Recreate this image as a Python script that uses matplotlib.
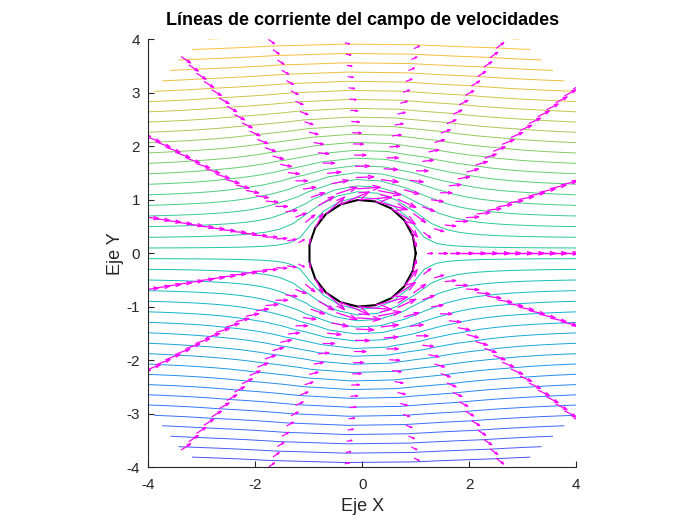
import numpy as np
import matplotlib
matplotlib.use("Agg")
import matplotlib.pyplot as plt
from matplotlib.colors import LinearSegmentedColormap, Normalize
from matplotlib.collections import LineCollection

# flujo potencial alrededor de un cilindro
U_inf = 1.0          # velocidad de la corriente libre
a = 1.0              # radio del cilindro
r_lim = [1.0, 5.0]   # radios de la malla polar
n_r = 20
n_theta = 20
n_levels = 50        # numero de lineas de corriente

x_ticks = [-4, -2, 0, 2, 4]
y_ticks = [-4, -3, -2, -1, 0, 1, 2, 3, 4]
titulo = "Líneas de corriente del campo de velocidades"
xlab = "Eje X"
ylab = "Eje Y"

# colormap tipo parula
parula_pts = [0.0, 9/63, 15/63, 19/63, 24/63, 31/63, 39/63, 47/63, 51/63, 55/63, 59/63, 1.0]
parula_rgb = [(0.2422, 0.1504, 0.6603), (0.2780, 0.3556, 0.9777), (0.1707, 0.4887, 0.9873),
              (0.1212, 0.6029, 0.8796), (0.0689, 0.6948, 0.8394), (0.0896, 0.7701, 0.6555),
              (0.3120, 0.8130, 0.4850), (0.7250, 0.7801, 0.3050), (0.8916, 0.7540, 0.2556),
              (0.9932, 0.7425, 0.2392), (0.9687, 0.8380, 0.1647), (0.9769, 0.9839, 0.0805)]
parula = LinearSegmentedColormap.from_list("parula", list(zip(parula_pts, parula_rgb)))

r = np.linspace(r_lim[0], r_lim[1], n_r)
theta = np.linspace(0, 2 * np.pi, n_theta)
R, T = np.meshgrid(r, theta)
X = R * np.cos(T)
Y = R * np.sin(T)

psi = U_inf * (R - a**2 / R) * np.sin(T)
Vr = U_inf * (1 - a**2 / R**2) * np.cos(T)
Vt = -U_inf * (1 + a**2 / R**2) * np.sin(T) / R
u = Vr * np.cos(T) - Vt * np.sin(T)
v = Vr * np.sin(T) + Vt * np.cos(T)

plt.rcParams['font.family'] = ['Liberation Sans', 'DejaVu Sans']
plt.rcParams['axes.unicode_minus'] = False
fig = plt.figure(figsize=(7, 5.25), dpi=100)
ax = fig.add_axes([0.13, 0.11, 0.775, 0.815])

levels = np.linspace(psi.min(), psi.max(), n_levels + 2)[1:-1]
ax.contour(X, Y, psi, levels=levels, cmap=parula,
           norm=Normalize(psi.min(), psi.max()), linewidths=0.7)

# cilindro
ax.plot(a * np.cos(theta), a * np.sin(theta), color='k', lw=1.5)

# quiver al estilo matlab (autoescala 0.9, flechas de lineas)
m, n = X.shape
delx = (X.max() - X.min()) / n
dely = (Y.max() - Y.min()) / m
del2 = delx**2 + dely**2
maxlen = np.sqrt((u**2 + v**2) / del2).max()
s = 0.9 / maxlen
us, vs = u.ravel() * s, v.ravel() * s
xs, ys = X.ravel(), Y.ravel()
alpha, beta = 0.33, 0.33
segs = []
for x0, y0, du, dv in zip(xs, ys, us, vs):
    tip = (x0 + du, y0 + dv)
    segs.append([(x0, y0), tip])
    h1 = (x0 + du - alpha * (du + beta * dv), y0 + dv - alpha * (dv - beta * du))
    h2 = (x0 + du - alpha * (du - beta * dv), y0 + dv - alpha * (dv + beta * du))
    segs.append([h1, tip, h2])
ax.add_collection(LineCollection(segs, colors=(1, 0, 1), linewidths=0.9))

ax.set_xlim(-4, 4)
ax.set_ylim(-4, 4)
ax.set_aspect('equal')
ax.set_xticks(x_ticks)
ax.set_yticks(y_ticks)
ax.spines['top'].set_visible(False)
ax.spines['right'].set_visible(False)
for sp in ['left', 'bottom']:
    ax.spines[sp].set_color((0.15, 0.15, 0.15))
ax.tick_params(direction='in', length=4, labelsize=11, colors=(0.15, 0.15, 0.15))
ax.tick_params(axis='x', pad=8)
ax.tick_params(axis='y', pad=6)
ax.set_xlabel(xlab, fontsize=13, color=(0.15, 0.15, 0.15), labelpad=4)
ax.set_ylabel(ylab, fontsize=13, color=(0.15, 0.15, 0.15), labelpad=2)
ax.set_title(titulo, fontsize=13, fontweight='bold', pad=10)

fig.savefig("out.png", dpi=100)
